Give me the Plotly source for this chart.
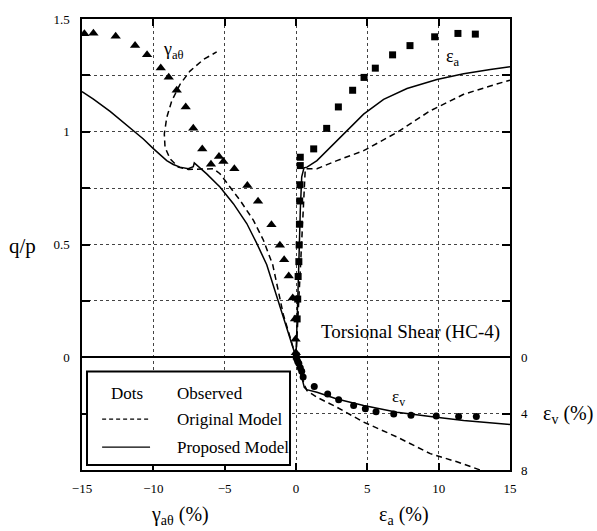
import plotly.graph_objects as go

# ---- Observed data (dots) ----
# shear strain gamma_a-theta (plotted on the negative side) vs q/p
gam_obs_x = [-14.83, -14.2, -12.64, -11.28, -10.44, -9.48, -8.92, -8.36, -7.73, -7.2,
             -6.57, -5.96, -5.4, -5.09, -4.32, -3.41, -2.66, -1.72, -1.13, -0.83,
             -0.51, -0.23, -0.07, -0.03, -0.01]
gam_obs_y = [1.435, 1.437, 1.423, 1.383, 1.342, 1.283, 1.242, 1.184, 1.110, 1.015,
             0.924, 0.856, 0.890, 0.868, 0.836, 0.762, 0.692, 0.588, 0.497, 0.432,
             0.360, 0.263, 0.170, 0.08, 0.02]

# axial strain eps_a vs q/p
epa_obs_x = [0.02, 0.08, 0.12, 0.15, 0.2, 0.22, 0.24, 0.26, 0.28, 0.3, 0.3,
             1.24, 2.15, 2.97, 3.97, 4.77, 5.56, 6.77, 7.99, 9.72, 11.35, 12.57]
epa_obs_y = [0.005, 0.17, 0.258, 0.358, 0.424, 0.498, 0.59, 0.693, 0.765, 0.85, 0.887,
             0.924, 1.015, 1.110, 1.184, 1.241, 1.282, 1.341, 1.382, 1.421, 1.436, 1.433]

# axial strain eps_a vs volumetric strain eps_v
epv_obs_x = [0.05, 0.12, 0.2, 0.3, 0.4, 0.5, 1.28, 2.22, 2.99, 4.04, 4.86, 5.61,
             6.85, 8.06, 9.83, 11.40, 12.64]
epv_obs_y = [0.1, 0.3, 0.45, 0.75, 1.0, 1.4, 2.07, 2.61, 3.01, 3.43, 3.66, 3.86,
             4.02, 4.11, 4.16, 4.21, 4.21]

# ---- Original model (dashed) ----
gam_orig_x = [0.0, -0.89, -1.63, -2.29, -2.99, -3.92, -4.63, -5.33, -5.8, -6.73, -7.55,
              -8.25, -8.83, -9.18, -9.23, -9.06, -8.71, -8.13, -7.43, -6.5, -5.56]
gam_orig_y = [0.0, 0.19, 0.41, 0.52, 0.608, 0.696, 0.755, 0.814, 0.836, 0.833, 0.833,
              0.843, 0.88, 0.931, 0.99, 1.063, 1.137, 1.21, 1.269, 1.32, 1.354]

epa_orig_x = [0.0, 0.25, 0.45, 0.6, 0.65, 1.47, 2.87, 4.74, 7.08, 9.41, 11.75, 13.62, 15.0]
epa_orig_y = [0.0, 0.3, 0.6, 0.78, 0.836, 0.836, 0.872, 0.916, 0.997, 1.093, 1.166, 1.203, 1.229]

epv_orig_x = [0.0, 0.3, 0.6, 0.77, 1.47, 2.87, 4.74, 7.08, 9.41, 11.28, 12.68, 13.2]
epv_orig_y = [0.0, 1.0, 2.0, 2.37, 2.84, 3.55, 4.6, 5.66, 6.84, 7.42, 7.9, 8.1]

# ---- Proposed model (solid) ----
gam_prop_x = [0.0, -1.25, -2.05, -2.75, -3.45, -4.39, -5.33, -6.26, -7.13, -7.2, -7.55,
              -8.13, -8.6, -9.06, -9.5, -10.0, -10.7, -11.4, -12.3, -13.03, -14.2, -15.0]
gam_prop_y = [0.0, 0.25, 0.41, 0.505, 0.593, 0.681, 0.755, 0.813, 0.862, 0.845, 0.836,
              0.843, 0.855, 0.872, 0.895, 0.925, 0.968, 1.004, 1.052, 1.09, 1.145, 1.178]

epa_prop_x = [0.0, 0.1, 0.2, 0.3, 0.4, 0.56, 0.77, 1.47, 2.41, 3.57, 4.74, 6.14, 7.78,
              9.88, 11.75, 13.62, 15.0]
epa_prop_y = [0.0, 0.17, 0.42, 0.65, 0.8, 0.84, 0.843, 0.872, 0.931, 1.004, 1.078, 1.144,
              1.192, 1.232, 1.257, 1.276, 1.288]

epv_prop_x = [0.0, 0.15, 0.3, 0.45, 0.58, 0.75, 1.47, 2.87, 4.74, 7.08, 9.41, 11.75, 15.0]
epv_prop_y = [0.0, 0.5, 1.0, 1.6, 2.14, 2.3, 2.49, 2.96, 3.43, 3.9, 4.21, 4.49, 4.77]

# ---- Axis ticks ----
x_ticks = [-15, -10, -5, 0, 5, 10, 15]
qp_ticks = [0, 0.5, 1.0, 1.5]
qp_minor = [-0.25, 0.25, 0.75, 1.25]
ev_ticks = [0, 4, 8]

FONT = "Liberation Serif"
DASH = "6px,4px"
LW = 1.5

fig = go.Figure()

def line(x, y, dash, yaxis="y"):
    fig.add_trace(go.Scatter(x=x, y=y, mode="lines", yaxis=yaxis, showlegend=False,
                             line=dict(color="black", width=LW, dash=dash),
                             hoverinfo="skip"))

def dots(x, y, symbol, size, yaxis="y"):
    fig.add_trace(go.Scatter(x=x, y=y, mode="markers", yaxis=yaxis, showlegend=False,
                             marker=dict(symbol=symbol, size=size, color="black",
                                         line=dict(width=0))))

line(gam_orig_x, gam_orig_y, DASH)
line(epa_orig_x, epa_orig_y, DASH)
line(epv_orig_x, epv_orig_y, DASH, "y2")
line(gam_prop_x, gam_prop_y, "solid")
line(epa_prop_x, epa_prop_y, "solid")
line(epv_prop_x, epv_prop_y, "solid", "y2")
dots(gam_obs_x, gam_obs_y, "triangle-up", 9)
dots(epa_obs_x, epa_obs_y, "square", 7)
dots(epv_obs_x, epv_obs_y, "circle", 7, "y2")

grid = dict(showgrid=True, gridcolor="#444", gridwidth=1, griddash="dot")
TICKFONT = dict(family=FONT, size=13, color="black")

fig.update_layout(
    width=597, height=531,
    margin=dict(l=82, r=87, t=17, b=61),
    paper_bgcolor="white", plot_bgcolor="white",
    font=dict(family=FONT, size=13, color="black"),
    xaxis=dict(range=[-15, 15], tickvals=x_ticks, ticks="inside", ticklen=7,
               tickwidth=1.5, tickcolor="black", showline=True, linecolor="black",
               linewidth=1.5, mirror="ticks", zeroline=False,
               tickfont=TICKFONT, ticklabelstandoff=6, **grid),
    yaxis=dict(range=[-0.5, 1.5], tickvals=qp_ticks, ticks="inside",
               ticklen=8, tickwidth=1.5, tickcolor="black", showline=True,
               linecolor="black", linewidth=1.5, mirror="ticks", zeroline=True,
               zerolinecolor="black", zerolinewidth=1.5,
               minor=dict(tickvals=qp_minor, ticks="inside", ticklen=8,
                          tickcolor="black", tickwidth=1.5, **grid),
               tickfont=TICKFONT, ticklabelstandoff=8, **grid),
    yaxis2=dict(range=[8, -24], overlaying="y", side="right", tickvals=ev_ticks,
                ticks="", showgrid=False, zeroline=False, showline=False,
                tickfont=TICKFONT, ticklabelstandoff=10),
)

ann = []
def text(s, x, y, size, xref="x", yref="y", xanchor="center"):
    ann.append(dict(text=s, x=x, y=y, xref=xref, yref=yref, showarrow=False,
                    xanchor=xanchor, yanchor="middle",
                    font=dict(family=FONT, size=size, color="black")))

# curve labels
text("γ<sub>aθ</sub>", -8.6, 1.36, 18)
text("ε<sub>a</sub>", 11.0, 1.33, 18)
text("ε<sub>v</sub>", 7.15, -0.18, 17)
text("Torsional Shear (HC-4)", 8.05, 0.11, 19)

# axis titles
text("q/p", -0.138, 0.497, 21, "paper", "paper")
text("γ<sub>aθ</sub> (%)", 0.229, -0.1, 20, "paper", "paper")
text("ε<sub>a</sub> (%)", 0.752, -0.1, 20, "paper", "paper")
text("ε<sub>v</sub> (%)", 1.135, 0.124, 20, "paper", "paper")

# legend box
shapes = [dict(type="rect", xref="paper", yref="paper", x0=0.0117, x1=0.486,
               y0=0.011, y1=0.2185, fillcolor="white",
               line=dict(color="black", width=2), layer="above"),
          dict(type="line", xref="paper", yref="paper", x0=0.047, x1=0.159,
               y0=0.1126, y1=0.1126, line=dict(color="black", width=1.2, dash="4px,3px"),
               layer="above"),
          dict(type="line", xref="paper", yref="paper", x0=0.047, x1=0.159,
               y0=0.0508, y1=0.0508, line=dict(color="black", width=1.2), layer="above")]
text("Dots", 0.105, 0.170, 17, "paper", "paper")
text("Observed", 0.217, 0.170, 17, "paper", "paper", "left")
text("Original Model", 0.217, 0.1126, 17, "paper", "paper", "left")
text("Proposed Model", 0.217, 0.0508, 17, "paper", "paper", "left")

fig.update_layout(annotations=ann, shapes=shapes)
fig.write_html("out.html")
